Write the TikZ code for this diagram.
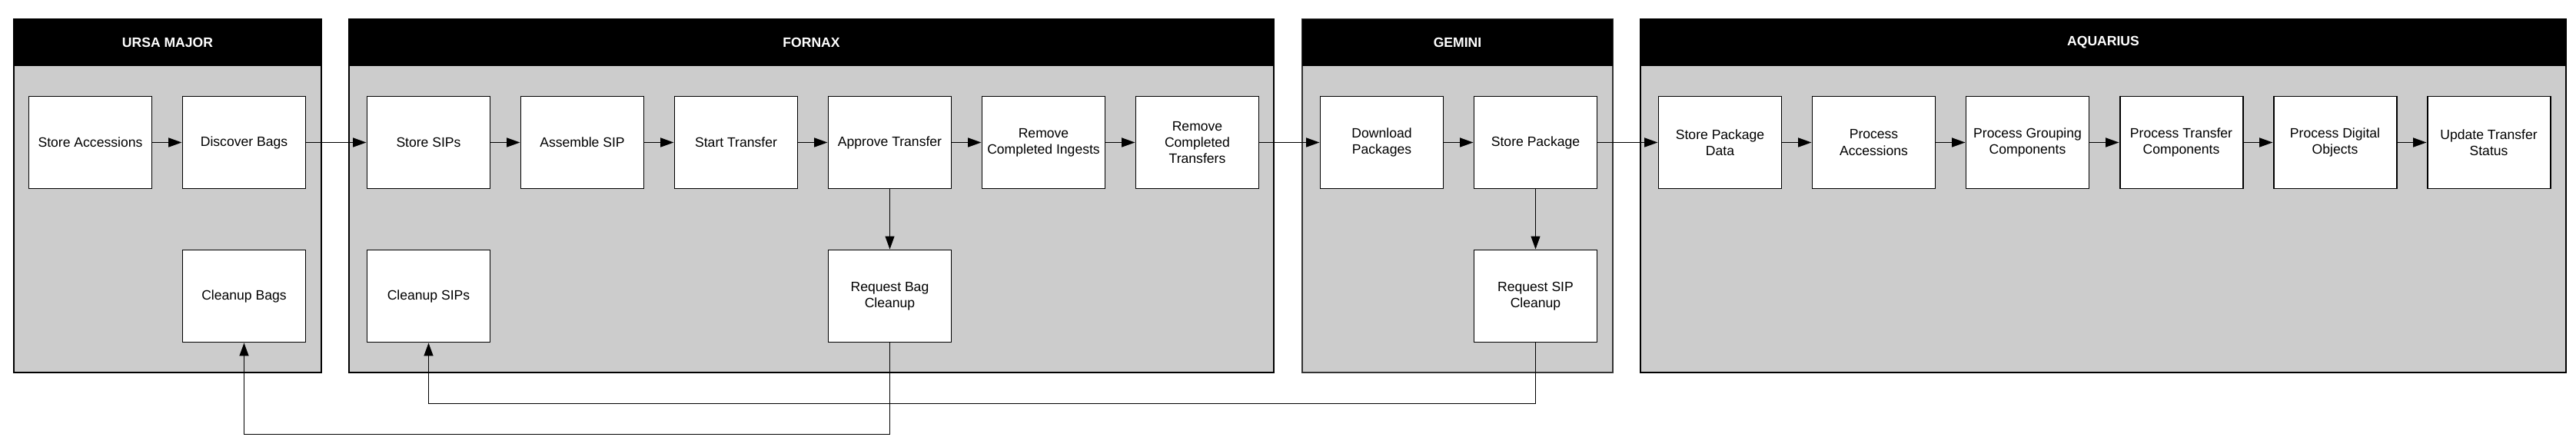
\documentclass[tikz,border=0pt]{standalone}
\usepackage{fontspec}
\setmainfont{Liberation Sans}
\usetikzlibrary{arrows.meta}
\definecolor{lanegray}{RGB}{204,204,204}
\definecolor{darkline}{RGB}{51,51,51}

\begin{document}
\begin{tikzpicture}[
  lane/.style={fill=lanegray, draw=black, line width=1.15pt},
  head/.style={text=white, font=\fontsize{10}{12}\selectfont\bfseries},
  task/.style={draw, fill=white, line width=1.1pt, minimum width=3.2cm, minimum height=2.4cm,
    align=center, inner sep=0pt, font=\fontsize{10}{12.2}\selectfont},
  flow/.style={-{Triangle[length=0.35cm,width=0.24cm]}, line width=1pt},
  back/.style={-{Triangle[length=0.34cm,width=0.24cm]}, line width=0.85pt},
  down/.style={-{Triangle[length=0.34cm,width=0.24cm]}, line width=0.6pt}
]
\useasboundingbox (0,0) rectangle (67.02,-11.64);

% lanes
\draw [lane] (0.36,-0.5) rectangle (8.36,-9.7);
\fill (0.36,-0.5) rectangle (8.36,-1.72);
\node [head] (ursa) at (4.36,-1.11) {URSA MAJOR};

\draw [lane] (9.08,-0.5) rectangle (33.14,-9.7);
\fill (9.08,-0.5) rectangle (33.14,-1.72);
\node [head] (fornax) at (21.11,-1.11) {FORNAX};

\draw [lane, draw=darkline, line width=1.3pt] (33.88,-0.5) rectangle (41.96,-9.7);
\fill (33.88,-0.5) rectangle (41.96,-1.72);
\node [head] (gemini) at (37.92,-1.11) {GEMINI};

\draw [lane] (42.68,-0.5) rectangle (66.75,-9.7);
\fill (42.68,-0.5) rectangle (66.75,-1.72);
\node [head] (aquarius) at (54.72,-1.11) {AQUARIUS};

% ursa major
\node [task] (storeacc) at (2.35,-3.71) {Store Accessions};
\node [task] (discover) at (6.35,-3.71) {Discover Bags};
\node [task] (cleanbags) at (6.35,-7.71) {Cleanup Bags};

% fornax
\node [task] (storesips) at (11.15,-3.71) {Store SIPs};
\node [task] (assemble) at (15.15,-3.71) {Assemble SIP};
\node [task] (start) at (19.15,-3.71) {Start Transfer};
\node [task] (approve) at (23.15,-3.71) {Approve Transfer};
\node [task] (remingest) at (27.15,-3.71) {Remove\\Completed Ingests};
\node [task] (remtrans) at (31.15,-3.71) {Remove\\Completed\\Transfers};
\node [task] (cleansips) at (11.15,-7.71) {Cleanup SIPs};
\node [task] (reqbag) at (23.15,-7.71) {Request Bag\\Cleanup};

% gemini
\node [task] (download) at (35.95,-3.71) {Download\\Packages};
\node [task] (storepkg) at (39.95,-3.71) {Store Package};
\node [task] (reqsip) at (39.95,-7.71) {Request SIP\\Cleanup};

% aquarius
\node [task] (pkgdata) at (44.75,-3.71) {Store Package\\Data};
\node [task] (procacc) at (48.75,-3.71) {Process\\Accessions};
\node [task] (procgroup) at (52.75,-3.71) {Process Grouping\\Components};
\node [task] (proctrans) at (56.75,-3.71) {Process Transfer\\Components};
\node [task] (procdig) at (60.75,-3.71) {Process Digital\\Objects};
\node [task] (update) at (64.75,-3.71) {Update Transfer\\Status};

% main flow
\draw [flow] (storeacc) -- (discover);
\draw [flow] (discover) -- (storesips);
\draw [flow] (storesips) -- (assemble);
\draw [flow] (assemble) -- (start);
\draw [flow] (start) -- (approve);
\draw [flow] (approve) -- (remingest);
\draw [flow] (remingest) -- (remtrans);
\draw [flow] (remtrans) -- (download);
\draw [flow] (download) -- (storepkg);
\draw [flow] (storepkg) -- (pkgdata);
\draw [flow] (pkgdata) -- (procacc);
\draw [flow] (procacc) -- (procgroup);
\draw [flow] (procgroup) -- (proctrans);
\draw [flow] (proctrans) -- (procdig);
\draw [flow] (procdig) -- (update);

% cleanup requests
\draw [down] (approve) -- (reqbag);
\draw [down] (storepkg) -- (reqsip);

\coordinate (lowsip) at (0,-10.51);
\coordinate (lowbag) at (0,-11.31);
\draw [back] (reqsip.south) -- (reqsip.south |- lowsip) -| (cleansips.south);
\draw [back] (reqbag.south) -- (reqbag.south |- lowbag) -| (cleanbags.south);

\end{tikzpicture}
\end{document}
